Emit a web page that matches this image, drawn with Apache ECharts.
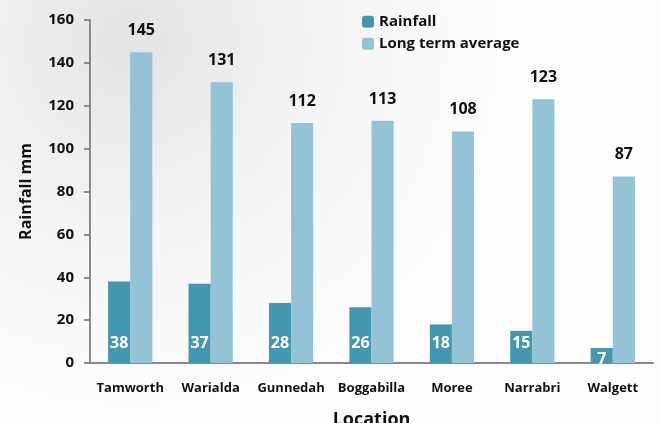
<html>

<head>
    <script src="https://cdn.jsdelivr.net/npm/echarts@6/dist/echarts.min.js"></script>
    <style>
        html, body { margin: 0; padding: 0; }
        #myChart {
            width: 659px;
            height: 423px;
        }
    </style>
</head>

<body>
    <div id="myChart"></div>
    <script>
        var locations = ['Tamworth', 'Warialda', 'Gunnedah', 'Boggabilla', 'Moree', 'Narrabri', 'Walgett'];
        var rainfall = [38, 37, 28, 26, 18, 15, 7];
        var longTermAvg = [145, 131, 112, 113, 108, 123, 87];
        var yTicks = [0, 20, 40, 60, 80, 100, 120, 140, 160];

        var font = 'Open Sans';
        var myChart = echarts.init(document.getElementById('myChart'));

        // small bars get their label pushed down onto the axis like the original
        var rainData = rainfall.map(function (v) {
            if (v < 10) {
                return { value: v, label: { distance: -11 } };
            }
            return v;
        });

        var legendText = { fontSize: 15, fontWeight: 'bold', color: '#111', fontFamily: font };

        var option = {
            backgroundColor: {
                type: 'radial', x: 0.2, y: 0.1, r: 0.9,
                colorStops: [
                    { offset: 0, color: '#e4e4e4' },
                    { offset: 0.5, color: '#f5f5f5' },
                    { offset: 1, color: '#fdfdfd' }
                ]
            },
            textStyle: { fontFamily: font },
            legend: [
                {
                    left: 357, top: 3, padding: 5,
                    itemWidth: 12, itemHeight: 12,
                    textStyle: legendText,
                    data: ['Rainfall']
                },
                {
                    left: 357, top: 25, padding: 5,
                    itemWidth: 12, itemHeight: 12,
                    textStyle: legendText,
                    data: ['Long term average']
                }
            ],
            grid: { left: 90, right: 6, top: 20, bottom: 60, outerBoundsMode: 'none' },
            xAxis: {
                type: 'category',
                data: locations,
                name: 'Location',
                nameLocation: 'middle',
                nameGap: 40,
                nameMoveOverlap: false,
                nameTextStyle: { fontSize: 18, fontWeight: 'bold', color: '#111' },
                axisLine: { lineStyle: { color: '#8a8a8a', width: 2 } },
                axisTick: { length: 5, lineStyle: { color: '#8a8a8a', width: 2 } },
                axisLabel: { interval: 0, fontSize: 13, fontWeight: 'bold', color: '#111', margin: 13 }
            },
            yAxis: {
                type: 'value',
                min: yTicks[0],
                max: yTicks[yTicks.length - 1],
                interval: 20,
                name: 'Rainfall mm',
                nameLocation: 'middle',
                nameGap: 49,
                nameMoveOverlap: false,
                nameTextStyle: { fontSize: 16, fontWeight: 'bold', color: '#111' },
                axisLine: { show: true, lineStyle: { color: '#8a8a8a', width: 2 } },
                axisTick: { show: true, length: 6, lineStyle: { color: '#8a8a8a', width: 2 } },
                axisLabel: { fontSize: 15, fontWeight: 'bold', color: '#111', margin: 16 },
                splitLine: { show: false }
            },
            series: [
                {
                    name: 'Rainfall',
                    type: 'bar',
                    data: rainData,
                    barGap: '0%',
                    barCategoryGap: '45%',
                    itemStyle: { color: '#4398b0' },
                    label: {
                        show: true,
                        position: 'insideBottom',
                        distance: 5,
                        color: '#fff',
                        fontSize: 16,
                        fontWeight: 'bold'
                    }
                },
                {
                    name: 'Long term average',
                    type: 'bar',
                    data: longTermAvg,
                    itemStyle: { color: '#93c3d5' },
                    label: {
                        show: true,
                        position: 'top',
                        distance: 7,
                        color: '#111',
                        fontSize: 16,
                        fontWeight: 'bold'
                    }
                }
            ]
        };
        myChart.setOption(option);
    </script>
</body>

</html>
